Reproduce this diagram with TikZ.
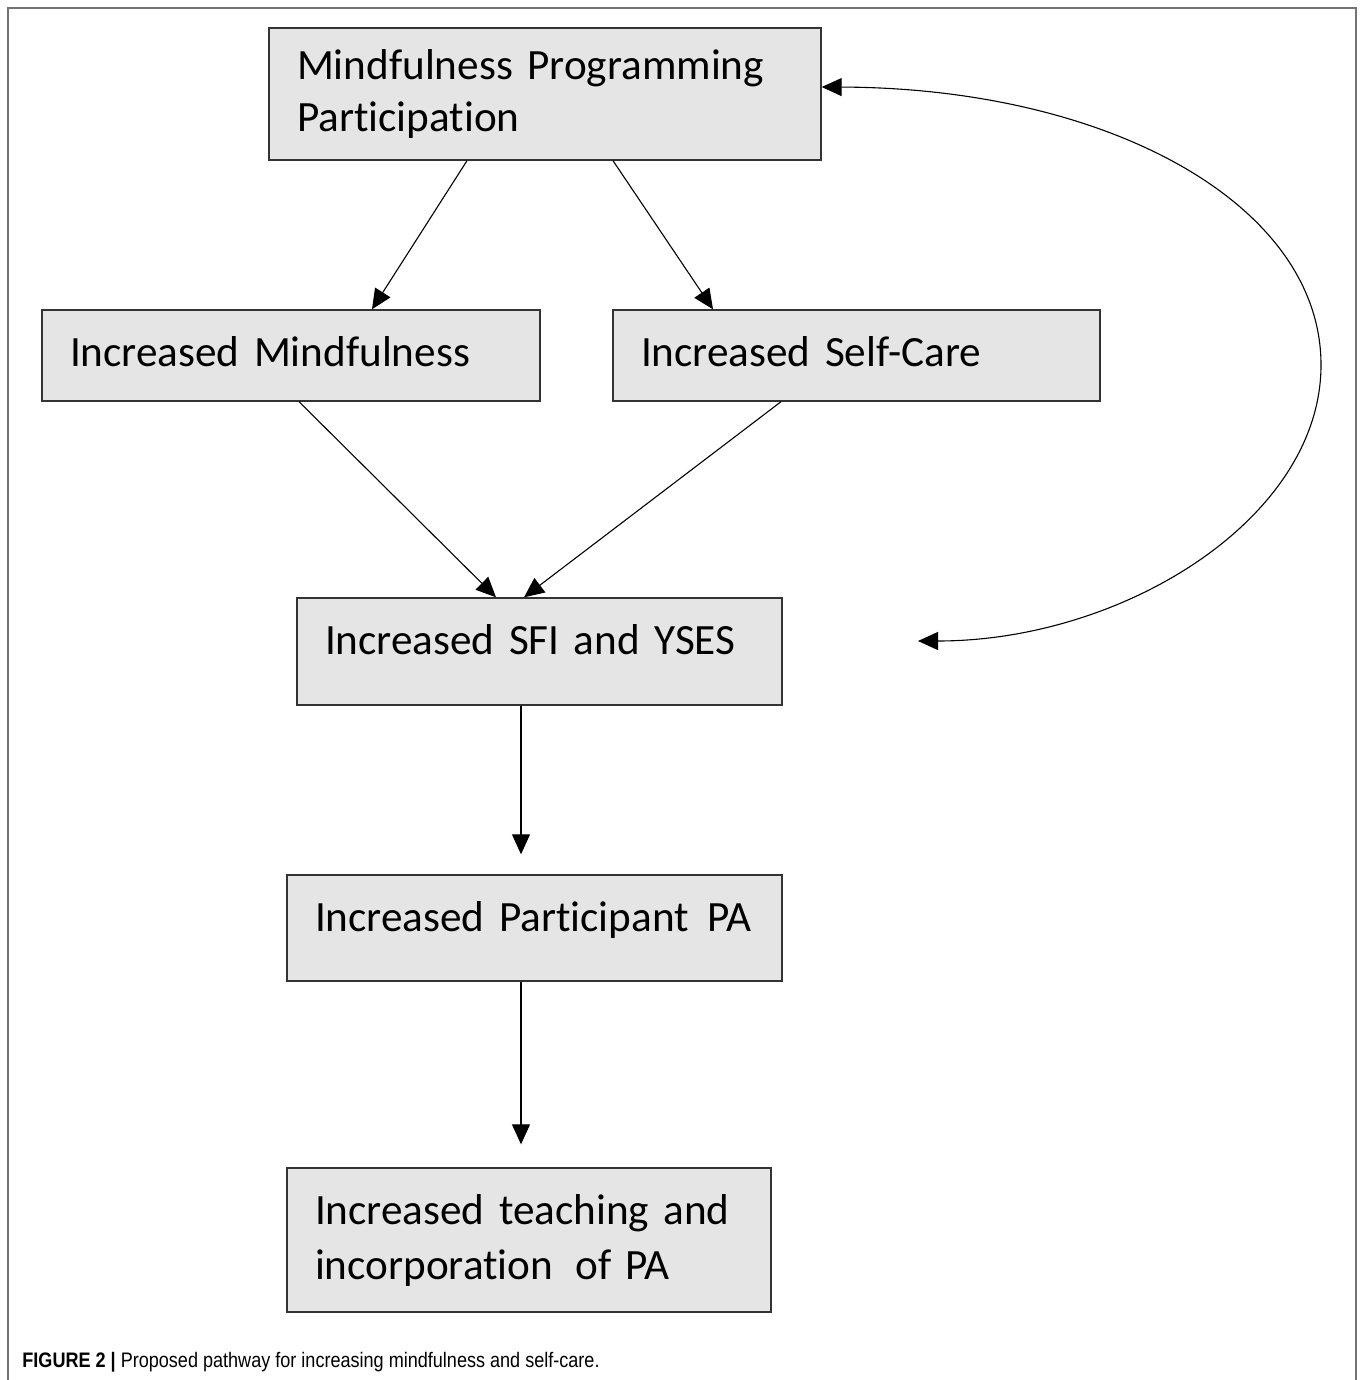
\documentclass[tikz,border=0pt]{standalone}
\usepackage{fontspec}
\setmainfont{Carlito}[Ligatures=NoCommon]
\newfontfamily\capfont{Liberation Sans}
\usetikzlibrary{arrows.meta}

\tikzset{
    stepbox/.style={rectangle, draw=black!80, fill=black!10, line width=0.7pt,
        align=left, inner xsep=14pt, font=\fontsize{21.6}{26}\selectfont},
    flow/.style={-{Triangle[length=10pt,width=9pt]}, line width=0.55pt},
    loop/.style={{Triangle[length=10pt,width=9pt]}-{Triangle[length=10pt,width=9pt]}, line width=0.55pt}
}

\begin{document}
\begin{tikzpicture}[x=0.5pt, y=-0.5pt]
    \useasboundingbox (0, 0) rectangle (1360, 1380);
    \draw[black!55, line width=1.2pt] (8, 1380) -- (8, 8) -- (1356, 8) -- (1356, 1380);

    \draw
    (545, 94) node[stepbox, text width=248pt, minimum height=66pt](prog){Mindfulness Programming\\Participation}
    (291, 355.5) node[stepbox, text width=221pt, minimum height=45.5pt, text height=15pt, text depth=4pt](mind){Increased Mindfulness}
    (856.5, 355.5) node[stepbox, text width=215.5pt, minimum height=45.5pt, text height=15pt, text depth=4pt](care){Increased Self-Care}
    (539.5, 651.5) node[stepbox, text width=214.5pt, minimum height=53.5pt, text height=15pt, text depth=12pt](sfi){Increased SFI and YSES}
    (534.5, 928) node[stepbox, text width=219.5pt, minimum height=53pt, text height=15pt, text depth=12pt](pa){\mbox{Increased Participant\hspace{2pt} PA}}
    (529, 1240) node[stepbox, text width=214pt, minimum height=72pt, font=\fontsize{21.6}{27.5}\selectfont](teach){\mbox{Increased teaching and}\\\mbox{incorporation\hspace{4pt} of PA}};

    \coordinate (back) at (918, 641);

    \draw[flow] ([xshift=-39pt]prog.south) -- ([xshift=40.5pt]mind.north);
    \draw[flow] ([xshift=34pt]prog.south) -- ([xshift=-71.75pt]care.north);
    \draw[flow] ([xshift=4pt]mind.south) -- ([xshift=-21.75pt]sfi.north);
    \draw[flow] ([xshift=-37.75pt]care.south) -- ([xshift=-7.75pt]sfi.north);
    \draw[flow] ([xshift=-9.25pt]sfi.south) -- ([xshift=-6.75pt, yshift=10pt]pa.north);
    \draw[flow] ([xshift=-6.75pt]pa.south) -- ([xshift=-4pt, yshift=11.5pt]teach.north);
    \draw[loop] (back) .. controls (1124, 641) and (1321, 518) .. (1321, 365)
        .. controls (1321, 205) and (1110, 88) .. ([yshift=3.5pt]prog.east);

    \node[anchor=west, inner sep=0pt] (caption) at (22, 1362)
        {\scalebox{0.86}[1]{\capfont\fontsize{10.5}{12}\selectfont\textbf{FIGURE 2 |} Proposed pathway for increasing mindfulness and self-care.}};
\end{tikzpicture}
\end{document}
